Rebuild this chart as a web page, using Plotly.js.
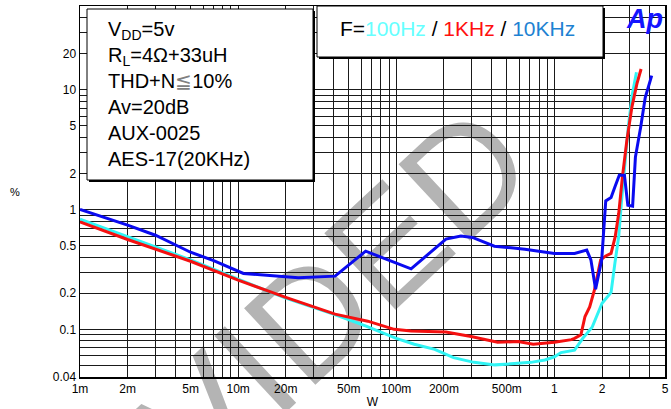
<!DOCTYPE html>
<html>
<head>
<meta charset="utf-8">
<script src="https://cdn.plot.ly/plotly-3.0.1.min.js"></script>
<style>html,body{margin:0;padding:0;background:#fff;}#chart{width:671px;height:409px;}</style>
</head>
<body>
<div id="chart"></div>
<script>
// ---- data ----
const x100 = [0.001,0.002,0.005,0.01,0.02,0.04,0.065,0.1,0.13,0.175,0.23,0.31,0.42,0.53,0.71,0.87,1.0,1.1,1.34,1.51,1.73,2.0,2.28,2.41,2.55,2.65,2.79,2.93,3.1,3.3];
const y100 = [0.83,0.59,0.38,0.262,0.182,0.134,0.106,0.084,0.075,0.068,0.058,0.053,0.0505,0.0515,0.053,0.0555,0.059,0.064,0.067,0.084,0.104,0.165,0.203,0.355,0.6,1.15,2.5,4.9,9.0,14.0];

const x1k = [0.001,0.002,0.005,0.01,0.02,0.041,0.066,0.097,0.124,0.206,0.297,0.437,0.588,0.734,1.0,1.28,1.34,1.47,1.56,1.67,1.79,1.96,2.11,2.28,2.42,2.55,2.69,2.87,3.09,3.32,3.53];
const y1k = [0.79,0.562,0.37,0.257,0.185,0.134,0.117,0.1,0.097,0.095,0.087,0.078,0.079,0.075,0.078,0.082,0.084,0.09,0.128,0.154,0.213,0.38,0.41,0.43,0.59,0.93,1.87,3.78,7.2,11.2,14.9];

const x10k = [0.001,0.002,0.003,0.005,0.007,0.0108,0.024,0.041,0.064,0.124,0.206,0.256,0.303,0.417,0.531,0.65,1.0,1.34,1.6,1.7,1.82,1.99,2.11,2.28,2.41,2.57,2.77,2.91,3.12,3.25,3.51,3.75,4.12];
const y10k = [1.0,0.74,0.61,0.44,0.375,0.293,0.27,0.278,0.449,0.32,0.566,0.6,0.585,0.494,0.48,0.467,0.43,0.43,0.458,0.38,0.216,0.38,1.18,1.26,1.54,1.93,1.93,1.085,1.065,2.74,4.88,8.6,13.1];

const xGrid = [0.001,0.002,0.003,0.004,0.005,0.006,0.007,0.008,0.009,
               0.01,0.02,0.03,0.04,0.05,0.06,0.07,0.08,0.09,
               0.1,0.2,0.3,0.4,0.5,0.6,0.7,0.8,0.9,
               1,2,3,4,5];
const xGridText = ['1m','2m','','','5m','','','','',
                   '10m','20m','','','50m','','','','',
                   '100m','200m','','','500m','','','','',
                   '1','2','','','5'];
const yGrid = [0.04,0.05,0.06,0.07,0.08,0.09,
               0.1,0.2,0.3,0.4,0.5,0.6,0.7,0.8,0.9,
               1,2,3,4,5,6,7,8,9,
               10,20,30,40,50];
const yGridText = ['0.04','','','','','',
                   '0.1','0.2','','','0.5','','','','',
                   '1','2','','','5','','','','',
                   '10','20','','','50'];

const infoLines = ['V<sub>DD</sub>=5v','R<sub>L</sub>=4Ω+33uH','THD+N<span style="color:#808080">≦</span>10%','Av=20dB','AUX-0025','AES-17(20KHz)'];
const freqLabel = 'F=<span style="color:#66ffff">100Hz</span> / <span style="color:#ff1010">1KHz</span> / <span style="color:#1e82d2">10KHz</span>';
const watermark = 'PROVIDED';

// ---- layout helpers (pixel -> paper) ----
const L = 80, R = 6, T = 6, B = 32, W = 671, H = 409;
const pw = W - L - R, ph = H - T - B;
const px = v => (v - L) / pw;
const py = v => (H - B - v) / ph;

const FONT = 'Liberation Sans, Arial, sans-serif';

const traces = [
  {x: x100, y: y100, mode: 'lines', line: {color: '#30f4f4', width: 3}, name: '100Hz'},
  {x: x1k, y: y1k, mode: 'lines', line: {color: '#f51010', width: 3}, name: '1KHz'},
  {x: x10k, y: y10k, mode: 'lines', line: {color: '#0a0af0', width: 3}, name: '10KHz'}
];

const shapes = [
  // watermark (below grid)
  {type: 'rect', xref: 'paper', yref: 'paper', x0: px(204), x1: px(206), y0: py(397), y1: py(395),
   line: {width: 0}, fillcolor: 'rgba(0,0,0,0)', layer: 'below',
   label: {text: watermark, textangle: -43, textposition: 'middle center', padding: 0,
           font: {family: FONT, size: 152, color: '#b4b4b4'}}},
  // info box shadow + box
  {type: 'rect', xref: 'paper', yref: 'paper', x0: px(89), x1: px(315), y0: py(182), y1: py(11),
   line: {width: 0}, fillcolor: '#000', layer: 'above'},
  {type: 'rect', xref: 'paper', yref: 'paper', x0: px(87), x1: px(313), y0: py(180), y1: py(9),
   line: {width: 1, color: '#000'}, fillcolor: '#fff', layer: 'above'},
  // frequency box shadow + box
  {type: 'rect', xref: 'paper', yref: 'paper', x0: px(319), x1: px(605), y0: py(59), y1: py(8),
   line: {width: 0}, fillcolor: '#000', layer: 'above'},
  {type: 'rect', xref: 'paper', yref: 'paper', x0: px(317), x1: px(603), y0: py(57), y1: py(6),
   line: {width: 1, color: '#000'}, fillcolor: '#fff', layer: 'above'}
];

const annotations = [
  {xref: 'paper', yref: 'paper', x: px(106), y: py(94), xanchor: 'left', yanchor: 'middle',
   align: 'left', showarrow: false, text: infoLines.join('<br>'),
   font: {family: FONT, size: 20, color: '#000'}},
  {xref: 'paper', yref: 'paper', x: px(457), y: py(29), xanchor: 'center', yanchor: 'middle',
   showarrow: false, text: freqLabel, font: {family: FONT, size: 21, color: '#000'}},
  {xref: 'paper', yref: 'paper', x: px(644), y: py(19), xanchor: 'center', yanchor: 'middle',
   showarrow: false, text: '<b><i>Ap</i></b>', font: {family: FONT, size: 27, color: '#1414ff'}},
  {xref: 'paper', yref: 'paper', x: px(15), y: py(192), xanchor: 'center', yanchor: 'middle',
   showarrow: false, text: '%', font: {family: FONT, size: 11, color: '#000'}}
];

const layout = {
  width: W, height: H,
  margin: {l: L, r: R, t: T, b: B, pad: 0},
  paper_bgcolor: '#fff',
  plot_bgcolor: 'rgba(0,0,0,0)',
  showlegend: false,
  font: {family: FONT, size: 12, color: '#000'},
  xaxis: {
    type: 'log', range: [Math.log10(0.001), Math.log10(5)],
    tickmode: 'array', tickvals: xGrid, ticktext: xGridText,
    showgrid: true, gridcolor: '#1a1a1a', gridwidth: 1,
    showline: true, mirror: true, linecolor: '#000', linewidth: 1.5,
    ticks: '', zeroline: false,
    tickfont: {family: FONT, size: 12, color: '#000'},
    title: {text: 'W', font: {family: FONT, size: 12, color: '#000'}, standoff: 3}
  },
  yaxis: {
    type: 'log', range: [Math.log10(0.04), Math.log10(50)],
    tickmode: 'array', tickvals: yGrid, ticktext: yGridText,
    showgrid: true, gridcolor: '#1a1a1a', gridwidth: 1,
    showline: true, mirror: true, linecolor: '#000', linewidth: 1.5,
    ticks: '', zeroline: false,
    tickfont: {family: FONT, size: 12, color: '#000'}
  },
  shapes: shapes,
  annotations: annotations
};

Plotly.newPlot('chart', traces, layout, {displayModeBar: false, staticPlot: true});
</script>
</body>
</html>
